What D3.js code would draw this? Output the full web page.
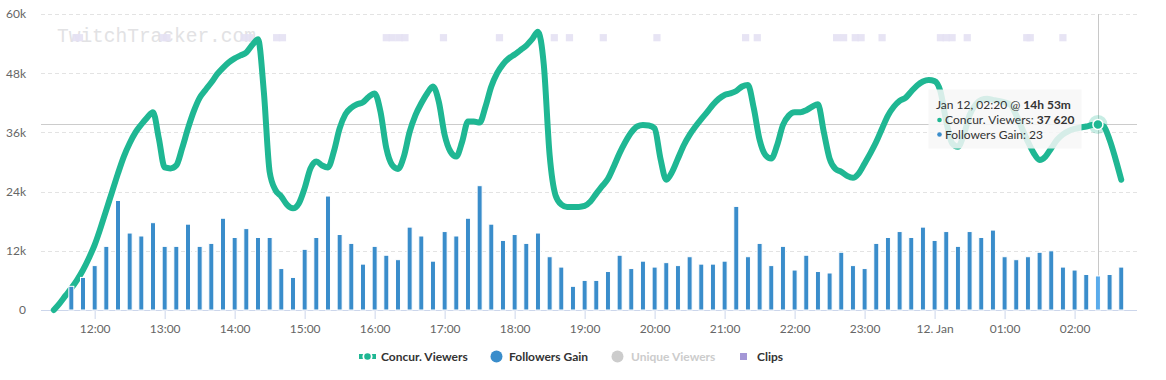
<!DOCTYPE html>
<html><head><meta charset="utf-8">
<script src="https://cdn.jsdelivr.net/npm/d3@7"></script>
<style>
html,body{margin:0;padding:0;background:#fff;}
svg{display:block;font-family:Lato,"Open Sans",sans-serif;}
</style></head><body>
<svg id="chart" width="1166" height="380"></svg>
<script>
// ---------- DATA ----------
// Concurrent viewers, one reading every 5 minutes starting 11:25 (Jan 11)
const viewersStart = "11:25";
const viewersIntervalMin = 5;
const viewers = [
  0,1350,2900,4400,6100,8100,10500,
  13200,16600,20300,24000,27700,31100,33800,36000,37600,39000,40100,34800,
  28900,28700,29300,32800,36800,40300,43000,44600,46100,47800,49100,50200,
  51000,51600,52200,53700,54900,44300,28000,24300,23000,21300,20600,21600,
  24700,28700,30100,29300,28900,32100,36800,39700,41000,41700,42100,43200,
  43900,40200,32800,29400,28600,31100,36100,39500,41900,43900,45300,42200,
  35500,32100,31100,34100,38200,38200,38000,41200,45300,48000,49800,51000,
  51800,52700,53600,54900,56400,49700,31400,23300,21400,20900,20900,20900,
  21100,22000,23600,25100,26600,29100,31800,34100,36000,37200,37500,37400,
  36800,30700,26400,28000,30700,33400,35500,37200,38700,40100,41600,42800,
  43600,43900,44400,45300,45600,40900,34500,31400,30700,33400,37500,39400,
  40100,40100,40500,41200,41700,36100,30700,28600,28000,27200,26800,27700,
  29700,31800,34100,36800,39400,41200,42400,43000,44300,45500,46300,46600,
  46400,44300,38200,33800,33100,35500,39500,41600,42600,42800,42600,42400,
  42100,41600,39500,36800,34100,31800,30400,31100,32800,34500,35600,36300,
  36700,37000,37200,37500,37620,37200,34500,30700,26400
];
// Followers gained, one bar every 10 minutes starting 11:40
const followersStart = "11:40";
const followersIntervalMin = 10;
const followers = [
  16,22,
  30,43,74,52,50,59,
  43,43,58,43,45,62,
  49,55,49,49,28,22,
  41,49,77,51,45,31,
  43,37,34,56,50,33,
  53,50,62,84,58,47,
  51,45,52,36,29,16,
  20,20,26,37,28,33,
  29,32,30,36,31,31,
  33,70,36,45,30,43,
  27,37,26,25,39,30,
  28,45,49,53,49,56,
  47,53,43,53,49,54,
  36,34,36,39,40,29,
  27,24,23,24,29
];
// Clip creation times
const clips = ["11:44","11:47","12:59","13:02","14:08","14:13","14:36","14:41",
  "16:10","16:15","16:21","16:26","16:59","17:47","18:34","18:47","19:16","20:02",
  "21:18","21:28","22:36","22:42","22:52","22:57","23:15","00:05","00:10","00:15",
  "00:28","01:19","01:22","01:50"];
const clipLevel = 0.92;

const viewerTicks = [0,12000,24000,36000,48000,60000];
const followerAxisMax = 200;
const timeTicks = ["12:00","13:00","14:00","15:00","16:00","17:00","18:00","19:00",
  "20:00","21:00","22:00","23:00","00:00","01:00","02:00"];
const timeTickLabels = ["12:00","13:00","14:00","15:00","16:00","17:00","18:00","19:00",
  "20:00","21:00","22:00","23:00","12. Jan","01:00","02:00"];
const xExtent = ["11:14:00","02:53:30"];

const hoverTime = "02:20";
const tooltipHeader = "Jan 12, 02:20 @ ";
const tooltipDuration = "14h 53m";
const seriesNames = ["Concur. Viewers","Followers Gain","Unique Viewers","Clips"];

// ---------- HELPERS ----------
function parseT(s){
  const p = s.split(":").map(Number);
  const h = p[0], m = p[1], sec = p[2]||0;
  return new Date(2020, 0, h < 11 ? 12 : 11, h, m, sec);
}
const addMin = (d, m) => new Date(d.getTime() + m*60000);

const C = { green:"#1fb793", blue:"#3a8dcb", blueHover:"#5aabeb", clip:"#e4e1f3", clipLegend:"#a497d6",
  grid:"#e3e3e3", axis:"#ccd6eb", text:"#666", dark:"#333" };

const M = {left:41, right:1137, top:14, bottom:310};
const svg = d3.select("#chart");

const x = d3.scaleTime().domain(xExtent.map(parseT)).range([M.left, M.right]);
const yV = d3.scaleLinear().domain([0,60000]).range([M.bottom, M.top]);
const yF = d3.scaleLinear().domain([0,followerAxisMax]).range([M.bottom, M.top]);
const yC = d3.scaleLinear().domain([0,1]).range([M.bottom, M.top]);

// ---------- GRID + Y AXIS ----------
const gY = svg.append("g").attr("transform",`translate(${M.left},0)`)
  .call(d3.axisLeft(yV).tickValues(viewerTicks).tickSize(-(M.right-M.left)).tickPadding(15)
    .tickFormat(d => d===0 ? "0" : (d/1000)+"k"));
gY.select(".domain").remove();
gY.selectAll(".tick line").attr("stroke", d => d===0 ? "none" : C.grid)
  .attr("stroke-dasharray","4,3").attr("shape-rendering","crispEdges");
gY.selectAll(".tick text").attr("fill",C.text).attr("font-size","12px").attr("font-family","Lato");

// ---------- WATERMARK ----------
svg.append("text").attr("x",57).attr("y",41.5)
  .attr("font-family","'Liberation Mono','Courier New',monospace").attr("font-size","19.5px")
  .attr("fill","#e2e2e4").text("TwitchTracker.com");

// ---------- CLIPS ----------
svg.append("g").selectAll("rect").data(clips).join("rect")
  .attr("x", d => x(parseT(d)) - 3.6).attr("y", yC(clipLevel) - 3.6)
  .attr("width",7.2).attr("height",7.2).attr("fill",C.clip).attr("fill-opacity",0.9);

// ---------- X AXIS ----------
const gX = svg.append("g").attr("transform",`translate(0,${M.bottom})`)
  .call(d3.axisBottom(x).tickValues(timeTicks.map(parseT)).tickSize(9).tickPadding(5)
    .tickFormat((d,i) => timeTickLabels[i]));
gX.select(".domain").attr("stroke",C.axis).attr("d",`M${M.left},0.5H${M.right}`);
gX.selectAll(".tick line").attr("stroke",C.axis);
gX.selectAll(".tick text").attr("fill",C.text).attr("font-size","12px").attr("font-family","Lato");

// ---------- CROSSHAIRS ----------
const hT = parseT(hoverTime);
const hIdx = Math.round((hT - parseT(viewersStart))/60000/viewersIntervalMin);
const hY = yV(viewers[hIdx]);
svg.append("line").attr("x1",M.left).attr("x2",M.right).attr("y1",Math.round(hY)+0.5).attr("y2",Math.round(hY)+0.5)
  .attr("stroke","#cccccc");
svg.append("line").attr("x1",Math.round(x(hT))+0.5).attr("x2",Math.round(x(hT))+0.5).attr("y1",M.top).attr("y2",M.bottom)
  .attr("stroke","#c8c8c8");

// ---------- VIEWERS LINE ----------
const vStart = parseT(viewersStart);
const vPts = viewers.map((v,i) => [addMin(vStart, i*viewersIntervalMin), v]);
svg.append("path").datum(vPts)
  .attr("fill","none").attr("stroke",C.green).attr("stroke-width",6)
  .attr("stroke-linejoin","round").attr("stroke-linecap","round")
  .attr("d", d3.line().x(d=>x(d[0])).y(d=>yV(d[1])).curve(d3.curveMonotoneX));

// ---------- FOLLOWER BARS ----------
const fStart = parseT(followersStart);
const fPts = followers.map((v,i) => [addMin(fStart, i*followersIntervalMin), v]);
svg.append("g").selectAll("rect").data(fPts).join("rect")
  .attr("x", d => x(d[0]) - 2.5).attr("width",5)
  .attr("y", d => yF(d[1])).attr("height", d => yF(0) - yF(d[1]))
  .attr("fill", d => +d[0] === +hT ? C.blueHover : C.blue)
  .attr("stroke","#fff").attr("stroke-width",1);

// ---------- HOVER MARKER ----------
svg.append("circle").attr("cx",x(hT)).attr("cy",hY).attr("r",9.5).attr("fill",C.green).attr("fill-opacity",0.25);
svg.append("circle").attr("cx",x(hT)).attr("cy",hY).attr("r",5).attr("fill",C.green).attr("stroke","#fff").attr("stroke-width",1.5);

// ---------- TOOLTIP ----------
const tt = svg.append("g").attr("font-size","12px").attr("fill",C.dark);
tt.append("rect").attr("x",928.5).attr("y",89.5).attr("width",153).attr("height",59)
  .attr("fill","#f7f7f7").attr("fill-opacity",0.85);
const t1 = tt.append("text").attr("x",936).attr("y",109);
t1.append("tspan").text(tooltipHeader);
t1.append("tspan").attr("font-weight","bold").text(tooltipDuration);
const fIdx = Math.round((hT - fStart)/60000/followersIntervalMin);
const rows = [
  {c:C.green, name:seriesNames[0], val:d3.format(",")(viewers[hIdx]).replace(/,/g," "), bold:true},
  {c:C.blue, name:seriesNames[1], val:String(followers[fIdx]), bold:false}
];
rows.forEach((r,i) => {
  const yy = 124 + i*14.5;
  tt.append("circle").attr("cx",939.5).attr("cy",yy-4).attr("r",2.3).attr("fill",r.c);
  const t = tt.append("text").attr("x",945).attr("y",yy);
  t.append("tspan").text(r.name + ": ");
  t.append("tspan").attr("font-weight", r.bold ? "bold" : "normal").text(r.val);
});

// ---------- LEGEND ----------
const lg = svg.append("g").attr("font-size","12px").attr("font-weight","bold");
const ly = 356.5;
lg.append("line").attr("x1",359).attr("x2",376).attr("y1",ly).attr("y2",ly).attr("stroke",C.green).attr("stroke-width",5);
lg.append("circle").attr("cx",367.5).attr("cy",ly).attr("r",4.2).attr("fill",C.green).attr("stroke","#fff").attr("stroke-width",1.8);
lg.append("text").attr("x",381).attr("y",ly+4.5).attr("fill",C.dark).text(seriesNames[0]);
lg.append("circle").attr("cx",496.5).attr("cy",ly).attr("r",6).attr("fill",C.blue);
lg.append("text").attr("x",509).attr("y",ly+4.5).attr("fill",C.dark).text(seriesNames[1]);
lg.append("circle").attr("cx",617.5).attr("cy",ly).attr("r",6).attr("fill","#cccccc");
lg.append("text").attr("x",631).attr("y",ly+4.5).attr("fill","#cccccc").text(seriesNames[2]);
lg.append("rect").attr("x",740).attr("y",ly-3.5).attr("width",7).attr("height",7).attr("fill",C.clipLegend);
lg.append("text").attr("x",757).attr("y",ly+4.5).attr("fill",C.dark).text(seriesNames[3]);
</script>
</body></html>
